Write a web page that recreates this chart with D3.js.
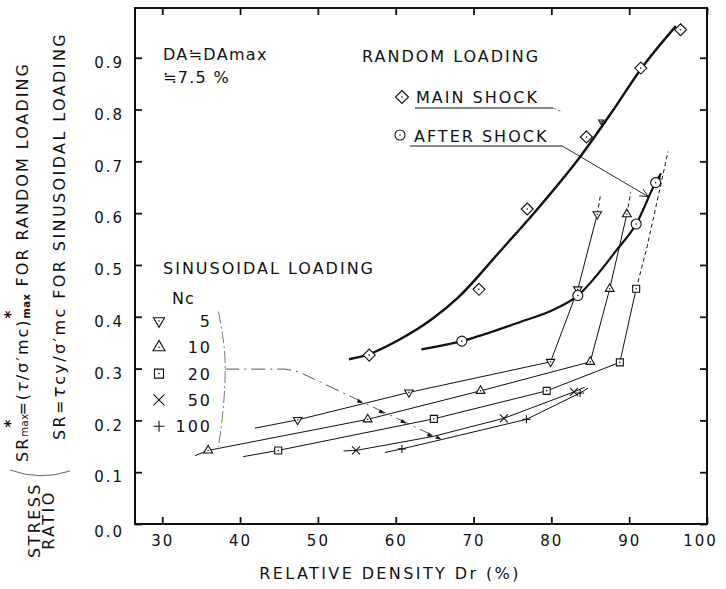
<!DOCTYPE html>
<html>
<head>
<meta charset="utf-8">
<script src="https://cdn.jsdelivr.net/npm/d3@7"></script>
<style>
  body { margin: 0; background: #fff; }
  svg text { font-family: "DejaVu Sans", sans-serif; fill: #111; }
</style>
</head>
<body>
<svg id="chart" width="726" height="589"></svg>
<script>
// 坐标轴刻度
var xTicks = [30, 40, 50, 60, 70, 80, 90, 100];
var yTicks = [0, 0.1, 0.2, 0.3, 0.4, 0.5, 0.6, 0.7, 0.8, 0.9];

// random loading：main shock / after shock（点 + 拟合曲线）
var mainShockPts = [[56.6, 0.326], [70.7, 0.453], [76.9, 0.608], [84.5, 0.747], [91.5, 0.880], [96.6, 0.954]];
var mainShockCurve = [[54, 0.318], [56.6, 0.328], [60.5, 0.356], [64.8, 0.397], [68, 0.437], [73.5, 0.528],
  [78.5, 0.613], [83.7, 0.709], [87.9, 0.798], [91.4, 0.876], [96, 0.961]];
var afterShockPts = [[68.5, 0.353], [83.4, 0.441], [90.9, 0.579], [93.4, 0.659]];
var afterShockCurve = [[63.3, 0.337], [68.5, 0.353], [76, 0.39], [80.2, 0.413], [83.4, 0.441], [88.4, 0.529],
  [90.9, 0.579], [93.4, 0.659], [94.1, 0.677]];

// sinusoidal loading，按 Nc 分组
var ncLabels = ["5", "10", "20", "50", "100"];
var n5Pts = [[47.4, 0.201], [61.7, 0.254], [79.9, 0.313], [83.4, 0.453], [85.9, 0.598]];
var n5Line = [[41.9, 0.185], [47.4, 0.201], [61.7, 0.254], [79.9, 0.313], [83.4, 0.453], [85.9, 0.598]];
var n5Ext = [[85.9, 0.598], [86.3, 0.634]];
var n5Extra = [[86.4, 0.777]];
var n10Pts = [[35.9, 0.142], [56.4, 0.202], [70.9, 0.257], [85, 0.313], [87.5, 0.454], [89.7, 0.598]];
var n10Line = [[34.2, 0.132], [35.9, 0.142], [56.4, 0.202], [70.9, 0.257], [85, 0.313], [87.5, 0.454], [89.7, 0.598]];
var n10Ext = [[89.7, 0.598], [90.2, 0.64]];
var n20Pts = [[44.9, 0.142], [64.9, 0.203], [79.4, 0.257], [88.8, 0.312], [90.9, 0.454]];
var n20Line = [[40.4, 0.130], [44.9, 0.142], [64.9, 0.203], [79.4, 0.257], [88.8, 0.312], [90.9, 0.454]];
var n20Ext = [[90.9, 0.454], [92.3, 0.535], [95, 0.719]];
var n50Pts = [[54.9, 0.142], [73.9, 0.204], [82.9, 0.255]];
var n50Line = [[53.3, 0.141], [54.9, 0.142], [64.8, 0.169], [73.9, 0.204], [82.9, 0.255], [84.3, 0.264]];
var n100Pts = [[60.8, 0.145], [76.8, 0.202], [83.7, 0.253]];
var n100Line = [[58.6, 0.138], [60.8, 0.145], [65.9, 0.163], [76.8, 0.202], [83.7, 0.253], [84.7, 0.262]];

// 图中的说明箭头（数据坐标）
var sinBracket = [[37.23, 0.41], [37.85, 0.355], [38.09, 0.30], [37.85, 0.225], [37.23, 0.149]];
var sinPointer = [[38.09, 0.299], [45.8, 0.299], [47.5, 0.294], [65.9, 0.163]];
var sinArrowTips = [[55.8, 0.233], [58.6, 0.213], [61.4, 0.194], [64.8, 0.168], [65.9, 0.163]];
var afterPointer = [[81.35, 0.730], [92.43, 0.632]];

var svg = d3.select("#chart");
var x = d3.scaleLinear().domain([26.5, 100]).range([135, 707]);
var y = d3.scaleLinear().domain([0, 0.996]).range([524, 8]);
var line = d3.line().x(function (d) { return x(d[0]); }).y(function (d) { return y(d[1]); });
var ink = "#111";

svg.append("rect").attr("width", 726).attr("height", 589).attr("fill", "#fff");

// 坐标轴（刻度朝内）
function styleAxis(g) {
  g.select(".domain").remove();
  g.selectAll(".tick line").attr("stroke", ink).attr("stroke-width", 1.8);
  g.selectAll("text").attr("letter-spacing", 2).attr("font-size", 15);
}
svg.append("g").attr("transform", "translate(0," + y(0) + ")")
  .call(d3.axisBottom(x).tickValues(xTicks).tickSize(-7).tickPadding(11).tickFormat(d3.format("d")))
  .call(styleAxis)
  .selectAll("text").filter(function (d) { return d == 100; }).attr("dx", -7);
svg.append("g").attr("transform", "translate(0," + y(0.996) + ")")
  .call(d3.axisTop(x).tickValues(xTicks).tickSize(-7).tickFormat(""))
  .call(styleAxis);
svg.append("g").attr("transform", "translate(" + x(26.5) + ",0)")
  .call(d3.axisLeft(y).tickValues(yTicks).tickSize(-7).tickPadding(11).tickFormat(d3.format(".1f")))
  .call(styleAxis)
  .selectAll("text").attr("dy", function (d) { return d == 0 ? "0.85em" : "0.65em"; });
svg.append("g").attr("transform", "translate(" + x(100) + ",0)")
  .call(d3.axisRight(y).tickValues(yTicks).tickSize(-7).tickFormat(""))
  .call(styleAxis);
svg.append("rect")
  .attr("x", x(26.5)).attr("y", y(0.996))
  .attr("width", x(100) - x(26.5)).attr("height", y(0) - y(0.996))
  .attr("fill", "none").attr("stroke", ink).attr("stroke-width", 2);

// 标记形状
function markerPath(type, s) {
  if (type == "diamond") return "M0," + (-s) + "L" + s + ",0L0," + s + "L" + (-s) + ",0Z";
  if (type == "triDown") return "M" + (-s) + "," + (-0.58 * s) + "L" + s + "," + (-0.58 * s) + "L0," + (1.15 * s) + "Z";
  if (type == "triUp") return "M" + (-s) + "," + (0.58 * s) + "L" + s + "," + (0.58 * s) + "L0," + (-1.15 * s) + "Z";
  if (type == "square") return "M" + (-s) + "," + (-s) + "H" + s + "V" + s + "H" + (-s) + "Z";
  if (type == "times") return "M" + (-s) + "," + (-s) + "L" + s + "," + s + "M" + (-s) + "," + s + "L" + s + "," + (-s);
  if (type == "plus") return "M" + (-s) + ",0H" + s + "M0," + (-s) + "V" + s;
  return "M" + s + ",0A" + s + "," + s + " 0 1,1 " + (-s) + ",0A" + s + "," + s + " 0 1,1 " + s + ",0Z";
}
function drawMarker(g, type, cx, cy, s) {
  g.append("path").attr("d", markerPath(type, s))
    .attr("transform", "translate(" + cx + "," + cy + ")")
    .attr("fill", "#fff").attr("stroke", ink).attr("stroke-width", 1.1);
  if (type != "times" && type != "plus")
    g.append("circle").attr("cx", cx).attr("cy", cy).attr("r", 0.8).attr("fill", ink);
}
function arrowHead(g, tip, from, len, half) {
  var a = Math.atan2(tip[1] - from[1], tip[0] - from[0]);
  var bx = tip[0] - len * Math.cos(a), by = tip[1] - len * Math.sin(a);
  var px = -Math.sin(a) * half, py = Math.cos(a) * half;
  g.append("path")
    .attr("d", "M" + tip[0] + "," + tip[1] + "L" + (bx + px) + "," + (by + py) + "L" + (bx - px) + "," + (by - py) + "Z")
    .attr("fill", ink);
}
function px(d) { return [x(d[0]), y(d[1])]; }

// sinusoidal 各线
var sinSeries = [
  { type: "triDown", pts: n5Pts, line: n5Line, ext: n5Ext, size: 4.2 },
  { type: "triUp", pts: n10Pts, line: n10Line, ext: n10Ext, size: 4.4 },
  { type: "square", pts: n20Pts, line: n20Line, ext: n20Ext, size: 3.5 },
  { type: "times", pts: n50Pts, line: n50Line, ext: null, size: 4 },
  { type: "plus", pts: n100Pts, line: n100Line, ext: null, size: 4 }
];
var gLines = svg.append("g");
sinSeries.forEach(function (s) {
  gLines.append("path").attr("d", line(s.line)).attr("fill", "none").attr("stroke", ink).attr("stroke-width", 1);
  if (s.ext)
    gLines.append("path").attr("d", line(s.ext)).attr("fill", "none").attr("stroke", ink)
      .attr("stroke-width", 1).attr("stroke-dasharray", "4,3");
});

// random loading 曲线
var smooth = d3.line().x(function (d) { return x(d[0]); }).y(function (d) { return y(d[1]); })
  .curve(d3.curveMonotoneX);
svg.append("path").attr("d", smooth(mainShockCurve))
  .attr("fill", "none").attr("stroke", ink).attr("stroke-width", 2.4);
svg.append("path").attr("d", smooth(afterShockCurve))
  .attr("fill", "none").attr("stroke", ink).attr("stroke-width", 2.2);
var ac = afterShockCurve;
arrowHead(svg, px(ac[ac.length - 1]), px(ac[ac.length - 3]), 7, 2.6);

// 说明用的括号和虚线箭头
svg.append("path").attr("d", d3.line().x(function (d) { return x(d[0]); }).y(function (d) { return y(d[1]); })
    .curve(d3.curveNatural)(sinBracket))
  .attr("fill", "none").attr("stroke", "#555").attr("stroke-width", 0.8).attr("stroke-dasharray", "12,3,2,3");
svg.append("path").attr("d", line(sinPointer))
  .attr("fill", "none").attr("stroke", "#444").attr("stroke-width", 0.9).attr("stroke-dasharray", "14,5,2,5");
sinArrowTips.forEach(function (t) {
  arrowHead(svg, px(t), px(sinPointer[2]), 6, 2);
});
svg.append("path").attr("d", line(afterPointer)).attr("fill", "none").attr("stroke", ink).attr("stroke-width", 0.9);
(function () {
  var tip = px(afterPointer[1]), from = px(afterPointer[0]);
  var a = Math.atan2(tip[1] - from[1], tip[0] - from[0]);
  [0.45, -0.45].forEach(function (da) {
    svg.append("line").attr("x1", tip[0]).attr("y1", tip[1])
      .attr("x2", tip[0] - 9 * Math.cos(a + da)).attr("y2", tip[1] - 9 * Math.sin(a + da))
      .attr("stroke", ink).attr("stroke-width", 0.9);
  });
})();

// 数据点
var gPts = svg.append("g");
sinSeries.forEach(function (s) {
  s.pts.forEach(function (d) { drawMarker(gPts, s.type, x(d[0]), y(d[1]), s.size); });
});
n5Extra.forEach(function (d) { drawMarker(gPts, "triDown", x(d[0]), y(d[1]), 2.6); });
mainShockPts.forEach(function (d) { drawMarker(gPts, "diamond", x(d[0]), y(d[1]), 6); });
afterShockPts.forEach(function (d) { drawMarker(gPts, "circle", x(d[0]), y(d[1]), 5); });

// 图中文字
var gTxt = svg.append("g").attr("font-size", 16).attr("letter-spacing", 2);
gTxt.append("text").attr("x", 163).attr("y", 60).attr("letter-spacing", 1.3).text("DA≒DAmax");
gTxt.append("text").attr("x", 163).attr("y", 83).attr("letter-spacing", 1.3).text("≒7.5 %");
gTxt.append("text").attr("x", 362).attr("y", 62).text("RANDOM LOADING");

drawMarker(gTxt, "diamond", 402, 97, 6.5);
gTxt.append("text").attr("x", 416).attr("y", 103).text("MAIN SHOCK");
svg.append("line").attr("x1", 415).attr("x2", 553).attr("y1", 108).attr("y2", 108).attr("stroke", ink).attr("stroke-width", 1);
svg.append("line").attr("x1", 553).attr("x2", 562).attr("y1", 108).attr("y2", 112)
  .attr("stroke", "#555").attr("stroke-width", 0.8).attr("stroke-dasharray", "3,2");
drawMarker(gTxt, "circle", 400, 135, 5);
gTxt.append("text").attr("x", 414).attr("y", 142).text("AFTER SHOCK");
svg.append("line").attr("x1", 410).attr("x2", x(afterPointer[0][0])).attr("y1", 146).attr("y2", 146)
  .attr("stroke", ink).attr("stroke-width", 1);

gTxt.append("text").attr("x", 163).attr("y", 274).text("SINUSOIDAL LOADING");
gTxt.append("text").attr("x", 172).attr("y", 304).attr("letter-spacing", 1).text("Nc");
var legendSize = [5.5, 6, 4.5, 5.5, 5.5];
ncLabels.forEach(function (lab, i) {
  var cy = 321 + i * 26.3;
  drawMarker(gTxt, sinSeries[i].type, 159, cy, legendSize[i]);
  gTxt.append("text").attr("x", 212).attr("y", cy + 6).attr("text-anchor", "end").text(lab);
});

// 坐标轴标题
svg.append("text").attr("x", 390).attr("y", 579).attr("text-anchor", "middle")
  .attr("font-size", 16).attr("letter-spacing", 2.4).text("RELATIVE DENSITY Dr (%)");

var gY = svg.append("g").attr("font-size", 16).attr("letter-spacing", 2.4);
gY.append("text").attr("transform", "translate(40,520) rotate(-90)").attr("text-anchor", "middle").text("STRESS");
gY.append("text").attr("transform", "translate(54,520) rotate(-90)").attr("text-anchor", "middle").text("RATIO");

var t1 = gY.append("text").attr("transform", "translate(28,462) rotate(-90)").attr("letter-spacing", 2);
t1.append("tspan").text("SR");
t1.append("tspan").attr("font-size", 10).attr("letter-spacing", 0.5).text("max");
t1.append("tspan").attr("font-size", 15).attr("font-weight", "bold").attr("dx", -14).attr("dy", -12).text("*");
t1.append("tspan").attr("dx", 2).attr("dy", 12).text("=(");
t1.append("tspan").attr("font-style", "italic").text("τ");
t1.append("tspan").text("/σ′mc)");
t1.append("tspan").attr("font-size", 15).attr("font-weight", "bold").attr("dy", -12).text("*");
t1.append("tspan").attr("font-size", 10).attr("font-weight", "bold").attr("letter-spacing", 0.5)
  .attr("dx", -10).attr("dy", 14).text("max");
t1.append("tspan").attr("dy", -2).text("  FOR RANDOM LOADING");

var t2 = gY.append("text").attr("transform", "translate(65,440) rotate(-90)").attr("letter-spacing", 2.4);
t2.append("tspan").text("SR=");
t2.append("tspan").attr("font-style", "italic").attr("font-size", 18).text("τ");
t2.append("tspan").text("cy/σ′mc FOR SINUSOIDAL LOADING");

svg.append("path").attr("d", "M10,470Q40,481 70,471").attr("fill", "none")
  .attr("stroke", "#555").attr("stroke-width", 0.9);
</script>
</body>
</html>
